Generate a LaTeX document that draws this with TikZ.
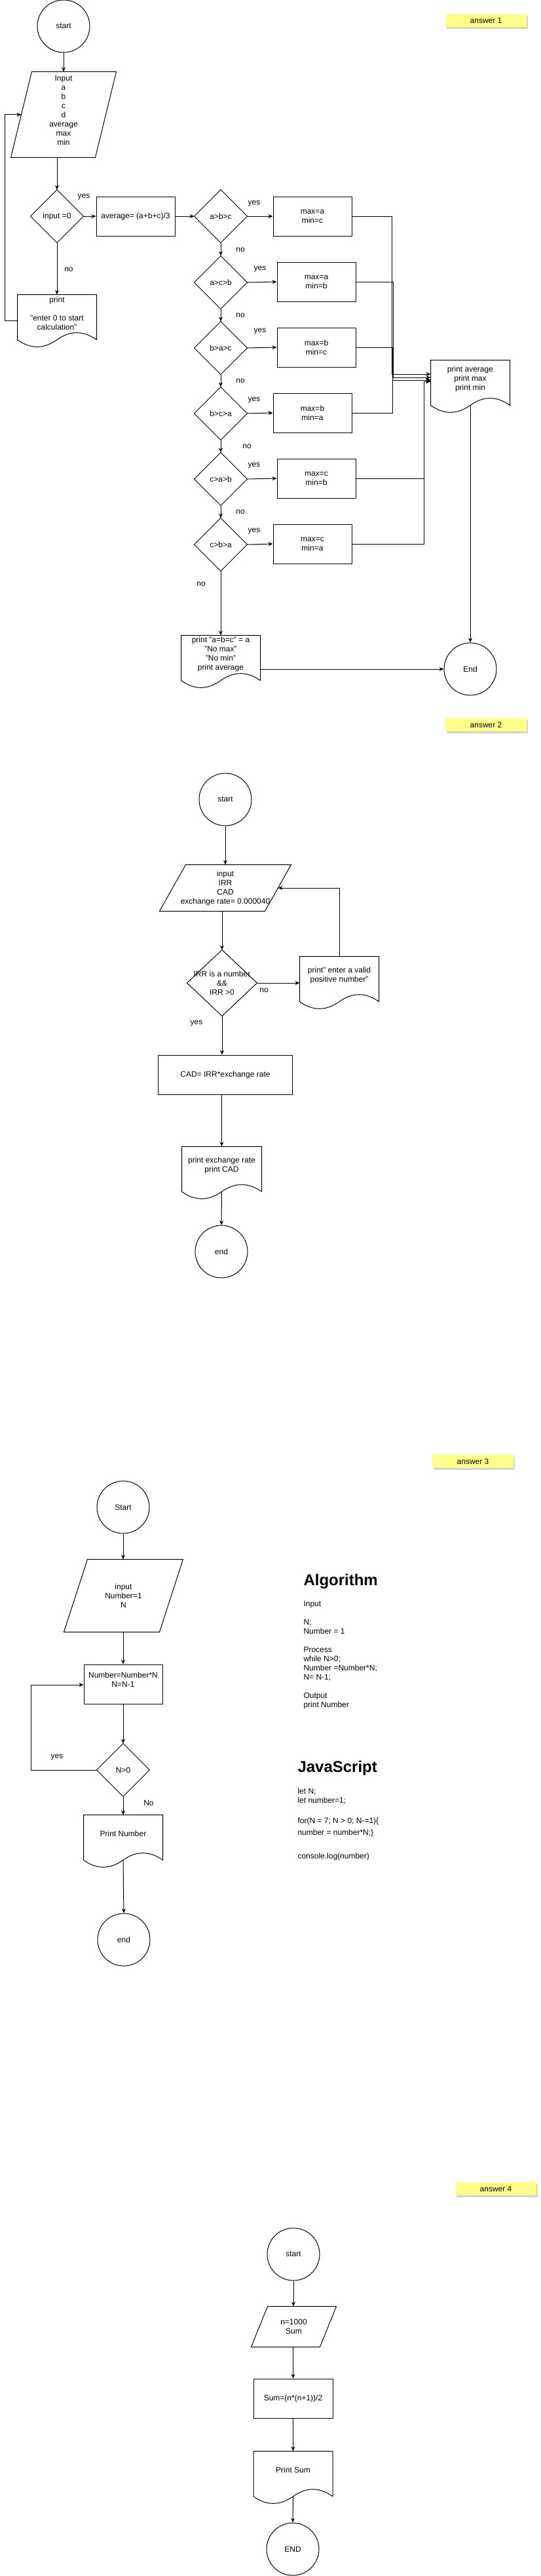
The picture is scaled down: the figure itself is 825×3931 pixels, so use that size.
\documentclass[tikz,border=0pt]{standalone}
\usepackage{fontspec}
\setmainfont{Liberation Sans}
\usetikzlibrary{arrows.meta,calc,shadows}
\definecolor{noteyellow}{RGB}{255,255,136}

% outline of a document box (wavy bottom) round node #1
\newcommand{\docline}[1]{\draw ($(#1.south east)+(0,-12pt)$) -- (#1.north east) -- (#1.north west) -- ($(#1.south west)+(0,-12pt)$)
  .. controls ($(#1.south west)!0.1667!(#1.south east)+(0,-26.4pt)$) and ($(#1.south west)!0.3333!(#1.south east)+(0,-26.4pt)$) .. ($(#1.south)+(0,-12pt)$)
  .. controls ($(#1.south west)!0.6667!(#1.south east)+(0,2.4pt)$) and ($(#1.south west)!0.8333!(#1.south east)+(0,2.4pt)$) .. ($(#1.south east)+(0,-12pt)$);}
% slanted input box round node #1, #2 = skew
\newcommand{\paraline}[2]{\draw ($(#1.north west)+(#2,0)$) -- (#1.north east) -- ($(#1.south east)+(-#2,0)$) -- (#1.south west) -- cycle;}
% decision diamond round node #1
\newcommand{\diamline}[1]{\draw (#1.north) -- (#1.east) -- (#1.south) -- (#1.west) -- cycle;}

\begin{document}
\begin{tikzpicture}[x=1pt,y=-1pt,line width=1pt,
  font=\fontsize{12}{14}\selectfont,
  arr/.style={-{Stealth[length=7pt,width=6pt]}},
  term/.style={circle,draw,minimum size=80pt,inner sep=0pt},
  proc/.style={rectangle,draw,minimum width=120pt,minimum height=60pt,align=center,inner sep=1pt},
  iobox/.style={rectangle,align=center,inner sep=1pt},
  decide/.style={rectangle,minimum width=80pt,minimum height=80pt,align=center,inner sep=0pt},
  docbox/.style={rectangle,minimum width=120pt,minimum height=56pt,align=center,inner sep=0pt},
  tag/.style={inner sep=1pt},
  note/.style={fill=noteyellow,minimum width=124pt,minimum height=20pt,inner sep=1pt,
    drop shadow={shadow xshift=2pt,shadow yshift=-3pt,opacity=0.35}},
  heading/.style={anchor=base west,inner sep=0pt,font=\fontsize{24}{28}\selectfont\bfseries},
  codetext/.style={anchor=north west,align=left,inner sep=0pt}]
  \useasboundingbox (0,0) rectangle (825,3931);

  % ---------------- answer 1
  \node[note] (a1) at (742,31) {answer 1};
  \node[term] (s1) at (97,40) {start};
  \node[iobox,minimum width=160pt,minimum height=130pt] (in1) at (97,175) {Input\\a\\b\\c\\d\\average\\max\\min\\~};
  \paraline{in1}{32}
  \node[decide] (q0) at (87,330) {input =0};
  \diamline{q0}
  \node[proc] (avg) at (207,330) {average= (a+b+c)/3};
  \node[docbox] (pr0) at (87,478) {print\\~\\"enter 0 to start\\calculation"};
  \docline{pr0}
  \node[tag] (y0) at (128,301) {yes};
  \node[tag] (n0) at (105,411) {no};

  \node[decide] (d1) at (337,330) {a>b>c};
  \diamline{d1}
  \node[decide] (d2) at (337,431) {a>c>b};
  \diamline{d2}
  \node[decide] (d3) at (337,531) {b>a>c};
  \diamline{d3}
  \node[decide] (d4) at (337,631) {b>c>a};
  \diamline{d4}
  \node[decide] (d5) at (337,731) {c>a>b};
  \diamline{d5}
  \node[decide] (d6) at (337,831) {c>b>a};
  \diamline{d6}

  \node[proc] (m1) at (477,330) {max=a\\min=c};
  \node[proc] (m2) at (483,430) {max=a\\min=b};
  \node[proc] (m3) at (483,530) {max=b\\min=c};
  \node[proc] (m4) at (477,630) {max=b\\min=a};
  \node[proc] (m5) at (483,730) {max=c\\min=b};
  \node[proc] (m6) at (477,830) {max=c\\min=a};

  \node[tag] (y1) at (388,311) {yes};
  \node[tag] (y2) at (397,411) {yes};
  \node[tag] (y3) at (397,506) {yes};
  \node[tag] (y4) at (388,611) {yes};
  \node[tag] (y5) at (388,711) {yes};
  \node[tag] (y6) at (388,811) {yes};
  \node[tag] (n1) at (367,381) {no};
  \node[tag] (n2) at (367,481) {no};
  \node[tag] (n3) at (367,581) {no};
  \node[tag] (n4) at (377,681) {no};
  \node[tag] (n5) at (367,781) {no};
  \node[tag] (n6) at (307,891) {no};

  \node[docbox] (pm) at (718,578) {print average\\print max\\print min};
  \docline{pm}
  \node[docbox] (pd) at (337,998) {print "a=b=c" = a\\"No max"\\"No min"\\print average};
  \docline{pd}
  \node[term] (endA) at (718,1021) {End};

  \coordinate (c1) at (7,175);
  \coordinate (j1) at (598,571);
  \coordinate (j2) at (600,576);
  \coordinate (j3) at (599,580);
  \coordinate (j5) at (647,582);

  \draw[arr] (s1.south) -- (in1.north);
  \draw[arr] (in1.south -| q0.north) -- (q0.north);
  \draw[arr] (q0.east) -- (avg.west);
  \draw[arr] (q0.south) -- (pr0.north);
  \draw[arr] ($(pr0.north west)+(0,-40pt)$) -| (c1) -- ($(in1.west)+(16,0)$); % back to input
  \draw[arr] (avg.east) -- (d1.west);
  \draw[arr] (d1.east) -- (m1.west);
  \draw[arr] (d2.east) -- (m2.west);
  \draw[arr] (d3.east) -- (m3.west);
  \draw[arr] (d4.east) -- (m4.west);
  \draw[arr] (d5.east) -- (m5.west);
  \draw[arr] (d6.east) -- (m6.west);
  \draw[arr] (d1.south) -- (d2.north);
  \draw[arr] (d2.south) -- (d3.north);
  \draw[arr] (d3.south) -- (d4.north);
  \draw[arr] (d4.south) -- (d5.north);
  \draw[arr] (d5.south) -- (d6.north);
  \draw[arr] (d6.south) -- (pd.north);
  \draw[arr] (m1.east) -| (j1) -- (j1 -| pm.west);
  \draw[arr] (m2.east) -| (j2) -- (j2 -| pm.west);
  \draw[arr] (m3.east) -| (j3) -- (j3 -| pm.west);
  \draw[arr] (m4.east) -| (j3) -- (j3 -| pm.west);
  \draw[arr] (m5.east) -| (j5) -- (j5 -| pm.west);
  \draw[arr] (m6.east) -| (j5) -- (j5 -| pm.west);
  \draw[arr] ($(pm.south)+(0,-12pt)$) -- (endA.north);
  \draw[arr] (pd.east |- endA.west) -- (endA.west);

  % ---------------- answer 2
  \node[note] (a2) at (742,1106) {answer 2};
  \node[term] (s2) at (344,1220) {start};
  \node[iobox,minimum width=200pt,minimum height=70pt] (in2) at (344,1355) {input\\IRR\\CAD\\exchange rate= 0.000040};
  \paraline{in2}{40}
  \node[decide,minimum width=106pt,minimum height=100pt] (irr) at (339,1500) {IRR is a number\\\&\&\\IRR >0};
  \diamline{irr}
  \node[docbox] (pe) at (518,1488) {print" enter a valid\\positive number"};
  \docline{pe}
  \node[proc,minimum width=205pt] (cad) at (344,1640) {CAD= IRR*exchange rate};
  \node[docbox,minimum width=121pt] (pc) at (338.5,1778) {print exchange rate\\print CAD};
  \docline{pc}
  \node[term] (e2) at (338,1910) {end};
  \node[tag] (n7) at (403,1511) {no};
  \node[tag] (y7) at (300,1561) {yes};

  \draw[arr] (s2.south) -- (in2.north);
  \draw[arr] (in2.south -| irr.north) -- (irr.north);
  \draw[arr] (irr.east) -- (irr.east -| pe.west);
  \draw[arr] (pe.north) |- ($(in2.east)+(-20,0)$); % ask again
  \draw[arr] (irr.south) -- (irr.south |- cad.north);
  \draw[arr] (pc.north |- cad.south) -- (pc.north);
  \draw[arr] ($(pc.south)+(0,-12pt)$) -- (e2.north);

  % ---------------- answer 3
  \node[note] (a3) at (722,2230) {answer 3};
  \node[term] (s3) at (188,2300) {Start};
  \node[iobox,minimum width=181pt,minimum height=110pt] (in3) at (188.5,2435) {input\\Number=1\\N};
  \paraline{in3}{36}
  \node[proc] (nb) at (188,2570) {Number=Number*N\\N=N-1\\~};
  \node[decide] (nz) at (188,2701) {N>0};
  \diamline{nz}
  \node[docbox] (pn) at (188,2798) {Print Number};
  \docline{pn}
  \node[term] (e3) at (189,2960) {end};
  \node[tag] (y8) at (87,2681) {yes};
  \node[tag] (n8) at (227,2751) {No};
  \coordinate (c3) at (47,2571);

  \draw[arr] (s3.south) -- (in3.north -| s3.south);
  \draw[arr] (in3.south -| nb.north) -- (nb.north);
  \draw[arr] (nb.south) -- (nz.north);
  \draw[arr] (nz.west) -| (c3) -- (c3 -| nb.west); % loop
  \draw[arr] (nz.south) -- (pn.north);
  \draw[arr] ($(pn.south)+(0,-12pt)$) -- (e3.north);

  \node[heading] (alg) at (463,2419) {Algorithm};
  \node[codetext] (algtext) at (463,2443) {Input\\~\\N;\\Number = 1\\~\\Process\\while N>0;\\Number =Number*N;\\N= N-1;\\~\\Output\\print Number};
  \node[heading] (js) at (454,2704) {JavaScript};
  \node[codetext] (jstext) at (454,2728) {let N;\\let number=1;\\[17pt]for(N = 7; N > 0; N-=1)\{\\[4pt]number = number*N;\}\\[22pt]console.log(number)};

  % ---------------- answer 4
  \node[note] (a4) at (757,3340) {answer 4};
  \node[term] (s4) at (448,3440) {start};
  \node[iobox,minimum width=129pt,minimum height=61pt] (in4) at (448.5,3550.5) {n=1000\\Sum};
  \paraline{in4}{25}
  \node[proc,minimum width=121pt] (sm) at (447.5,3660) {Sum=(n*(n+1))/2};
  \node[docbox] (ps) at (447.5,3769) {Print Sum};
  \docline{ps}
  \node[term] (e4) at (447,3890) {END};

  \draw[arr] (s4.south) -- (in4.north -| s4.south);
  \draw[arr] (sm.north |- in4.south) -- (sm.north);
  \draw[arr] (sm.south) -- (ps.north);
  \draw[arr] ($(ps.south)+(0,-12pt)$) -- (e4.north);
\end{tikzpicture}
\end{document}
